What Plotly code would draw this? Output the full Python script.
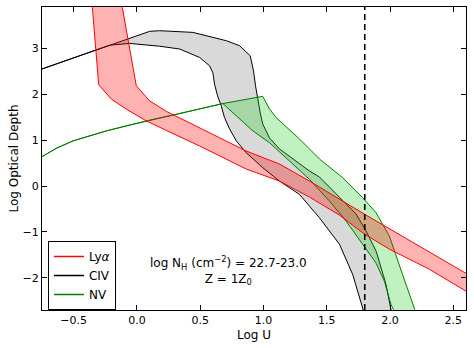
import plotly.graph_objects as go

# ---- data (log U, log optical depth) ----
# Ly-alpha band
lya_edge1_u = [-0.356, -0.352, -0.302, -0.202, -0.084, 0.074, 0.232, 0.495, 0.863, 1.126, 1.363, 1.600, 1.797, 1.995, 2.310, 2.594, 2.700]
lya_edge1_v = [4.00, 3.887, 2.205, 1.893, 1.675, 1.419, 1.212, 0.873, 0.371, 0.109, -0.240, -0.633, -1.045, -1.376, -1.812, -2.293, -2.455]
lya_edge2_u = [-0.122, -0.115, -0.005, 0.100, 0.232, 0.495, 0.863, 1.126, 1.363, 1.797, 2.231, 2.594, 2.700]
lya_edge2_v = [4.00, 3.887, 2.183, 1.856, 1.627, 1.277, 0.764, 0.480, 0.109, -0.611, -1.310, -1.893, -2.063]

# CIV band
civ_upper_u = [-0.75, -0.492, -0.215, 0.100, 0.179, 0.442, 0.706, 0.811, 0.895, 0.921, 0.937, 0.955, 0.976, 0.994, 1.047, 1.126, 1.258, 1.363, 1.442, 1.600, 1.732, 1.811, 1.890, 1.968, 2.010, 2.026]
civ_upper_v = [2.55, 2.801, 3.068, 3.369, 3.384, 3.347, 3.166, 3.057, 2.838, 2.511, 2.183, 1.856, 1.572, 1.354, 1.048, 0.808, 0.546, 0.328, 0.197, -0.240, -0.611, -0.983, -1.419, -2.140, -2.664, -2.948]
civ_lower_u = [-0.75, -0.492, -0.215, -0.058, 0.179, 0.337, 0.495, 0.574, 0.600, 0.613, 0.637, 0.666, 0.692, 0.732, 0.785, 0.863, 0.994, 1.126, 1.284, 1.442, 1.600, 1.705, 1.784, 1.797]
civ_lower_v = [2.55, 2.801, 3.068, 3.107, 3.046, 2.985, 2.801, 2.620, 2.467, 2.221, 1.965, 1.747, 1.491, 1.245, 0.983, 0.727, 0.400, 0.109, -0.181, -0.692, -1.266, -1.928, -2.664, -2.948]

# NV band
nv_upper_u = [-0.75, -0.636, -0.505, -0.373, -0.242, -0.084, 0.074, 0.337, 0.679, 0.994, 1.047, 1.100, 1.284, 1.442, 1.626, 1.784, 1.890, 1.995, 2.034, 2.099, 2.192, 2.215]
nv_upper_v = [0.64, 0.823, 0.983, 1.092, 1.201, 1.310, 1.419, 1.579, 1.797, 1.954, 1.681, 1.491, 1.026, 0.590, 0.181, -0.255, -0.583, -1.092, -1.419, -1.928, -2.664, -2.948]
nv_lower_u = [-0.75, -0.636, -0.505, -0.373, -0.242, -0.084, 0.074, 0.337, 0.679, 0.916, 1.047, 1.205, 1.363, 1.521, 1.653, 1.784, 1.890, 1.955, 2.008, 2.034, 2.050]
nv_lower_v = [0.64, 0.823, 0.983, 1.092, 1.201, 1.310, 1.419, 1.579, 1.797, 1.201, 0.945, 0.546, 0.146, -0.328, -0.764, -1.273, -1.681, -2.074, -2.583, -2.729, -2.948]

log_u_marker = 1.8

x_ticks = [-0.5, 0.0, 0.5, 1.0, 1.5, 2.0, 2.5]
y_ticks = [-2, -1, 0, 1, 2, 3]

FONT = "DejaVu Sans"

def band(xa, ya, xb, yb):
    return list(xa) + list(reversed(xb)), list(ya) + list(reversed(yb))

fig = go.Figure()

bx, by = band(civ_upper_u, civ_upper_v, civ_lower_u, civ_lower_v)
fig.add_trace(go.Scatter(x=bx, y=by, mode="lines", fill="toself",
                         fillcolor="rgba(0,0,0,0.15)", line=dict(color="black", width=1),
                         showlegend=False, hoverinfo="skip"))
gx, gy = band(nv_upper_u, nv_upper_v, nv_lower_u, nv_lower_v)
fig.add_trace(go.Scatter(x=gx, y=gy, mode="lines", fill="toself",
                         fillcolor="rgba(50,205,50,0.3)", line=dict(color="green", width=1),
                         showlegend=False, hoverinfo="skip"))
rx, ry = band(lya_edge1_u, lya_edge1_v, lya_edge2_u, lya_edge2_v)
fig.add_trace(go.Scatter(x=rx, y=ry, mode="lines", fill="toself",
                         fillcolor="rgba(255,0,0,0.3)", line=dict(color="red", width=1),
                         showlegend=False, hoverinfo="skip"))

# legend entries
for name, col in [("Ly<i>α</i>", "red"), ("CIV", "black"), ("NV", "green")]:
    fig.add_trace(go.Scatter(x=[None], y=[None], mode="lines", name=name,
                             line=dict(color=col, width=1.5)))

fig.add_shape(type="line", xref="x", yref="paper", x0=log_u_marker, x1=log_u_marker,
              y0=0, y1=1, line=dict(color="black", width=1.6, dash="6px,4px"))

fig.add_annotation(x=0.72, y=-1.83, xref="x", yref="y", showarrow=False,
                   text="log N<sub>H</sub> (cm<sup>−2</sup>) = 22.7-23.0<br>Z = 1Z<sub>0</sub>",
                   font=dict(family=FONT, size=12, color="black"), align="center")

axis_common = dict(showgrid=False, zeroline=False, showline=True, linecolor="black",
                   linewidth=1, mirror="ticks", ticks="inside", ticklen=5,
                   tickcolor="black", tickfont=dict(family=FONT, size=11, color="black"))

fig.update_xaxes(range=[-0.75, 2.6], tickvals=x_ticks, tickformat=".1f",
                 title=dict(text="Log U", font=dict(family=FONT, size=12, color="black"), standoff=4),
                 **axis_common)
fig.update_yaxes(range=[-2.7, 3.9], tickvals=y_ticks, tickformat="d",
                 title=dict(text="Log Optical Depth", font=dict(family=FONT, size=12, color="black"), standoff=1),
                 **axis_common)

fig.update_layout(width=474, height=348, margin=dict(l=42, r=8, t=7, b=38),
                  plot_bgcolor="white", paper_bgcolor="white",
                  font=dict(family=FONT, size=12, color="black"),
                  legend=dict(x=0.014, y=0.0, xanchor="left", yanchor="bottom",
                              bordercolor="black", borderwidth=1, bgcolor="white",
                              font=dict(family=FONT, size=12, color="black"),
                              tracegroupgap=0, itemwidth=30))

fig.write_html("out.html", config={"displayModeBar": False},
               post_script="document.body.style.margin='0';document.body.style.overflow='hidden';")
